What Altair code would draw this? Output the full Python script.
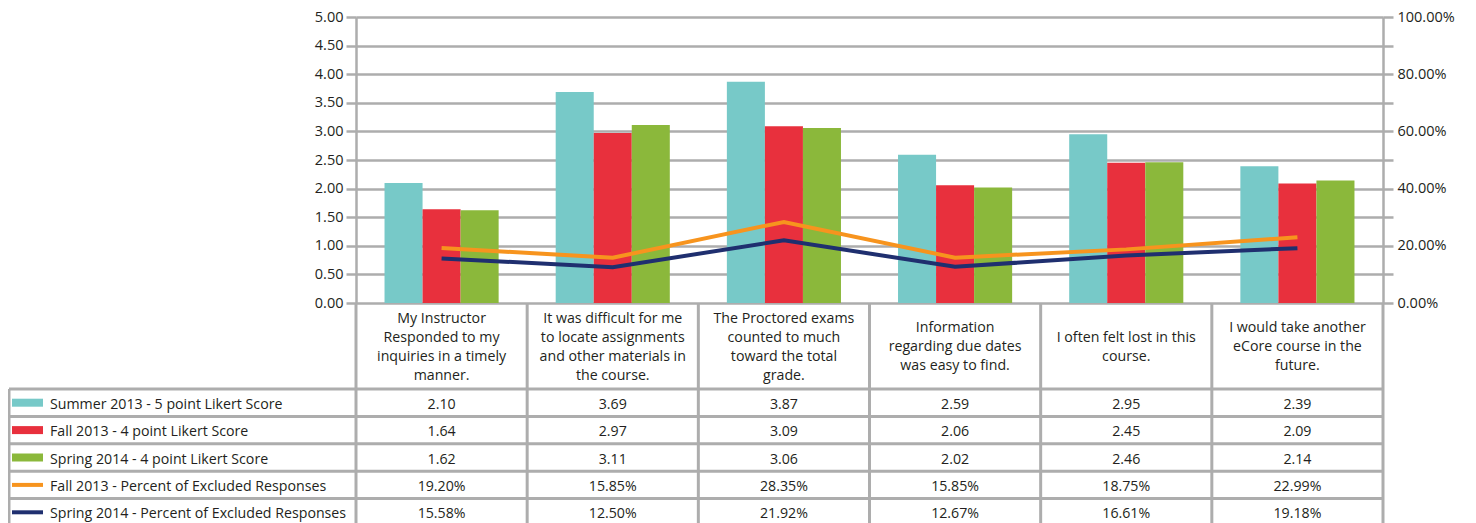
import altair as alt
import pandas as pd

# ---------------- data ----------------
categories = [
    "My Instructor Responded to my inquiries in a timely manner.",
    "It was difficult for me to locate assignments and other materials in the course.",
    "The Proctored exams counted to much toward the total grade.",
    "Information regarding due dates was easy to find.",
    "I often felt lost in this course.",
    "I would take another eCore course in the future.",
]
category_lines = [
    ["My Instructor", "Responded to my", "inquiries in a timely", "manner."],
    ["It was difficult for me", "to locate assignments", "and other materials in", "the course."],
    ["The Proctored exams", "counted to much", "toward the total", "grade."],
    ["Information", "regarding due dates", "was easy to find."],
    ["I often felt lost in this", "course."],
    ["I would take another", "eCore course in the", "future."],
]
bar_series = [
    "Summer 2013 - 5 point Likert Score",
    "Fall 2013 - 4 point Likert Score",
    "Spring 2014 - 4 point Likert Score",
]
line_series = [
    "Fall 2013 - Percent of Excluded Responses",
    "Spring 2014 - Percent of Excluded Responses",
]
summer_2013_score = [2.10, 3.69, 3.87, 2.59, 2.95, 2.39]
fall_2013_score = [1.64, 2.97, 3.09, 2.06, 2.45, 2.09]
spring_2014_score = [1.62, 3.11, 3.06, 2.02, 2.46, 2.14]
fall_2013_excluded = [0.1920, 0.1585, 0.2835, 0.1585, 0.1875, 0.2299]
spring_2014_excluded = [0.1558, 0.1250, 0.2192, 0.1267, 0.1661, 0.1918]

left_ticks = [0, 0.5, 1.0, 1.5, 2.0, 2.5, 3.0, 3.5, 4.0, 4.5, 5.0]
right_ticks = [0, 0.1, 0.2, 0.3, 0.4, 0.5, 0.6, 0.7, 0.8, 0.9, 1.0]

# ---------------- style / layout ----------------
colors = ["#77C9C8", "#E8303D", "#8BB83B", "#F7941E", "#1F2F6F"]
GRAY = "#ADADAD"
TXT = "#231F20"
FONT = "Open Sans"
FS = 14.2
LINE_H = 19

W, H = 1027, 286
PAD = {"left": 348, "top": 9, "right": 85, "bottom": 227}
HEADER_PX = 86
ROW_PX = 27.4
LEGEND_LEFT_PX = -347
SWATCH_PX = (-344, -313)
LEGEND_TEXT_PX = -306

ux = lambda px: px * 6 / W
uy = lambda px: -px * 5 / H   # pixels below the plot bottom -> score units

all_series = bar_series + line_series
COLOR = alt.Scale(domain=all_series, range=colors)
XS = alt.Scale(domain=[0, 6], nice=False, zero=False)
YS = alt.Scale(domain=[0, 5], nice=False, zero=False)

# ---------------- tables ----------------
bars_df = pd.DataFrame(
    [
        {"cat": c, "series": s, "score": v}
        for s, vals in zip(bar_series, [summer_2013_score, fall_2013_score, spring_2014_score])
        for c, v in zip(categories, vals)
    ]
)
lines_df = pd.DataFrame(
    [
        {"cat": c, "series": s, "pct": v}
        for s, vals in zip(line_series, [fall_2013_excluded, spring_2014_excluded])
        for c, v in zip(categories, vals)
    ]
)

bottom_px = HEADER_PX + 5 * ROW_PX + 6
hrules = pd.DataFrame(
    [{"x": ux(LEGEND_LEFT_PX), "x2": 6, "y": uy(HEADER_PX + k * ROW_PX)} for k in range(6)]
)
vrules = pd.DataFrame(
    [{"x": ux(LEGEND_LEFT_PX), "y": uy(HEADER_PX), "y2": uy(bottom_px)}]
    + [{"x": i, "y": 0, "y2": uy(bottom_px)} for i in range(7)]
)
# first line of each header placed so that the whole block is centred in the header row
header_df = pd.DataFrame(
    [
        {"x": i + 0.5, "y": uy(HEADER_PX / 2 + 1 - (len(l) - 1) * LINE_H / 2), "t": "\n".join(l)}
        for i, l in enumerate(category_lines)
    ]
)
table_rows = [
    (bar_series[0], summer_2013_score, "f"),
    (bar_series[1], fall_2013_score, "f"),
    (bar_series[2], spring_2014_score, "f"),
    (line_series[0], fall_2013_excluded, "p"),
    (line_series[1], spring_2014_excluded, "p"),
]
values_df = pd.DataFrame(
    [
        {"x": i + 0.5, "y": uy(HEADER_PX + (r + 0.5) * ROW_PX), "v": v, "kind": k}
        for r, (s, vals, k) in enumerate(table_rows)
        for i, v in enumerate(vals)
    ]
)
legend_df = pd.DataFrame(
    [
        {
            "series": s,
            "x": ux(SWATCH_PX[0]),
            "x2": ux(SWATCH_PX[1]),
            "xt": ux(LEGEND_TEXT_PX),
            "y": uy(HEADER_PX + (r + 0.5) * ROW_PX),
            "w": 8 if k == "f" else 4,
        }
        for r, (s, vals, k) in enumerate(table_rows)
    ]
)

# ---------------- marks ----------------
bars = alt.Chart(bars_df).mark_bar().encode(
    x=alt.X("cat:N", sort=categories, scale=alt.Scale(paddingInner=0, paddingOuter=0), axis=None),
    xOffset=alt.XOffset("series:N", sort=bar_series, scale=alt.Scale(paddingInner=0, paddingOuter=0.75)),
    y=alt.Y(
        "score:Q",
        scale=alt.Scale(domain=[0, 5], nice=False),
        axis=alt.Axis(
            values=left_ticks, format=".2f", title=None, grid=True, gridColor=GRAY, gridWidth=2.5,
            domainColor=GRAY, domainWidth=2.5, tickColor=GRAY, tickWidth=2.5, tickSize=10,
            labelFont=FONT, labelFontSize=14.5, labelColor=TXT, labelPadding=3,
        ),
    ),
    color=alt.Color("series:N", scale=COLOR, legend=None),
)

lines = alt.Chart(lines_df).mark_line(strokeWidth=4).encode(
    x=alt.X("cat:N", sort=categories, axis=None),
    y=alt.Y(
        "pct:Q",
        scale=alt.Scale(domain=[0, 1], nice=False),
        axis=alt.Axis(
            orient="right", values=right_ticks, title=None, grid=False,
            labelExpr="round(datum.value*10) % 2 == 0 ? format(datum.value, '.2%') : ''",
            domainColor=GRAY, domainWidth=2.5, tickColor=GRAY, tickWidth=2.5, tickSize=10,
            labelFont=FONT, labelFontSize=14.5, labelColor=TXT, labelPadding=4,
        ),
    ),
    color=alt.Color("series:N", scale=COLOR, legend=None),
)

h_lines = alt.Chart(hrules).mark_rule(color=GRAY, strokeWidth=3).encode(
    x=alt.X("x:Q", scale=XS, axis=None), x2="x2:Q", y=alt.Y("y:Q", scale=YS, axis=None)
)
v_lines = alt.Chart(vrules).mark_rule(color=GRAY, strokeWidth=3).encode(
    x=alt.X("x:Q", scale=XS, axis=None), y=alt.Y("y:Q", scale=YS, axis=None), y2="y2:Q"
)
headers = alt.Chart(header_df).mark_text(
    font=FONT, fontSize=FS, color=TXT, lineBreak="\n", lineHeight=LINE_H, baseline="middle", align="center"
).encode(
    x=alt.X("x:Q", scale=XS, axis=None), y=alt.Y("y:Q", scale=YS, axis=None), text="t:N"
)
values = alt.Chart(values_df).transform_calculate(
    label="datum.kind == 'p' ? format(datum.v, '.2%') : format(datum.v, '.2f')"
).mark_text(font=FONT, fontSize=FS, color=TXT, baseline="middle", align="center", dy=2).encode(
    x=alt.X("x:Q", scale=XS, axis=None), y=alt.Y("y:Q", scale=YS, axis=None), text="label:N"
)
swatches = alt.Chart(legend_df).mark_rule().encode(
    x=alt.X("x:Q", scale=XS, axis=None), x2="x2:Q",
    y=alt.Y("y:Q", scale=YS, axis=None),
    color=alt.Color("series:N", scale=COLOR, legend=None),
    strokeWidth=alt.StrokeWidth("w:Q", scale=None, legend=None),
)
legend_text = alt.Chart(legend_df).mark_text(
    font=FONT, fontSize=FS, color=TXT, baseline="middle", align="left", dy=2
).encode(
    x=alt.X("xt:Q", scale=XS, axis=None), y=alt.Y("y:Q", scale=YS, axis=None), text="series:N"
)

chart = (
    alt.layer(bars, h_lines, v_lines, headers, values, swatches, legend_text, lines)
    .resolve_scale(x="independent", y="independent")
    .properties(width=W, height=H, padding=PAD, autosize=alt.AutoSizeParams(type="none"))
    .configure_view(strokeWidth=0)
    .configure(font=FONT)
)

chart.save("out.html", embed_options={"renderer": "svg", "actions": False})
